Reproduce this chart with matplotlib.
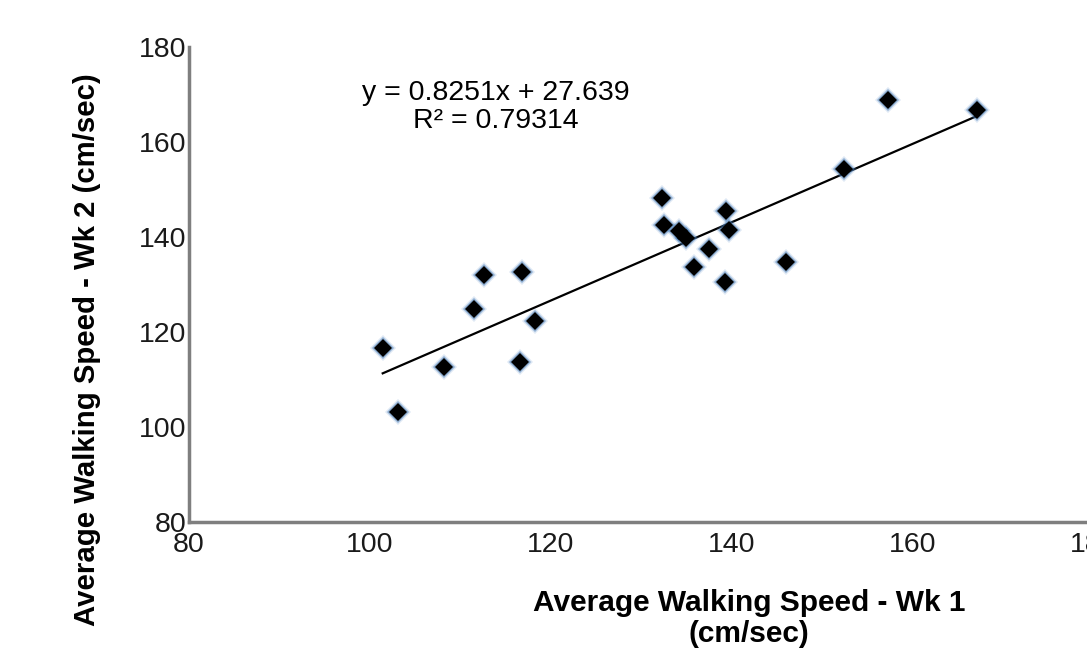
import matplotlib.pyplot as plt
import numpy as np

# walking speed, week 1 vs week 2 (cm/sec)
wk1 = [101.4, 103.1, 108.2, 111.5, 112.6, 116.6, 116.8, 118.2, 132.3, 132.5, 134.1,
       134.9, 135.8, 137.5, 139.2, 139.3, 139.7, 146.0, 152.4, 157.2, 167.1]
wk2 = [116.6, 103.2, 112.6, 124.8, 132.0, 113.7, 132.6, 122.4, 148.2, 142.5, 141.3,
       139.8, 133.7, 137.4, 130.6, 145.4, 141.4, 134.7, 154.4, 168.8, 166.8]
slope, intercept = 0.8251, 27.639
r2 = 0.79314

plt.rcParams['font.family'] = ['Liberation Sans', 'DejaVu Sans']

fig = plt.figure(figsize=(10.87, 6.48), dpi=100)
ax = fig.add_axes([0.1739, 0.1944, 0.8326, 0.733])

# trendline over the data range
xs = np.array([min(wk1), max(wk1)])
ax.plot(xs, slope * xs + intercept, color='black', lw=1.6, zorder=2)

# soft blue glow under the diamonds
ax.plot(wk1, wk2, 'D', ms=13.5, color='#5a8fc8', alpha=0.2, mew=0, zorder=3)
ax.plot(wk1, wk2, 'D', ms=11.2, color='#3d73b0', alpha=0.5, mew=0, zorder=3)
ax.plot(wk1, wk2, 'D', ms=9, color='black', mew=0, zorder=4)

ax.text(113.9, 167.4, f"y = {slope}x + {intercept}\nR\u00b2 = {r2}", ha='center', va='center',
        fontsize=20.5, linespacing=1.1)

ax.set_xlim(80, 180)
ax.set_ylim(80, 180)
ax.set_xticks(range(80, 181, 20))
ax.set_yticks(range(80, 181, 20))
ax.tick_params(length=0, labelsize=20.5, colors='#1a1a1a')
ax.tick_params(axis='x', pad=7)
ax.tick_params(axis='y', pad=2)

for s in ['top', 'right']:
    ax.spines[s].set_visible(False)
for s in ['left', 'bottom']:
    ax.spines[s].set_color('#7f7f7f')
    ax.spines[s].set_linewidth(2.5)

ax.set_xlabel("Average Walking Speed - Wk 1\n(cm/sec)", fontsize=21.5, fontweight='bold',
              linespacing=1.15)
ax.xaxis.set_label_coords(0.619, -0.14)
ax.xaxis.label.set_va('top')
ax.set_ylabel("Average Walking Speed - Wk 2 (cm/sec)", fontsize=21.2, fontweight='bold')
ax.yaxis.set_label_coords(-0.097, 0.362)

fig.savefig('out.png', dpi=100)
